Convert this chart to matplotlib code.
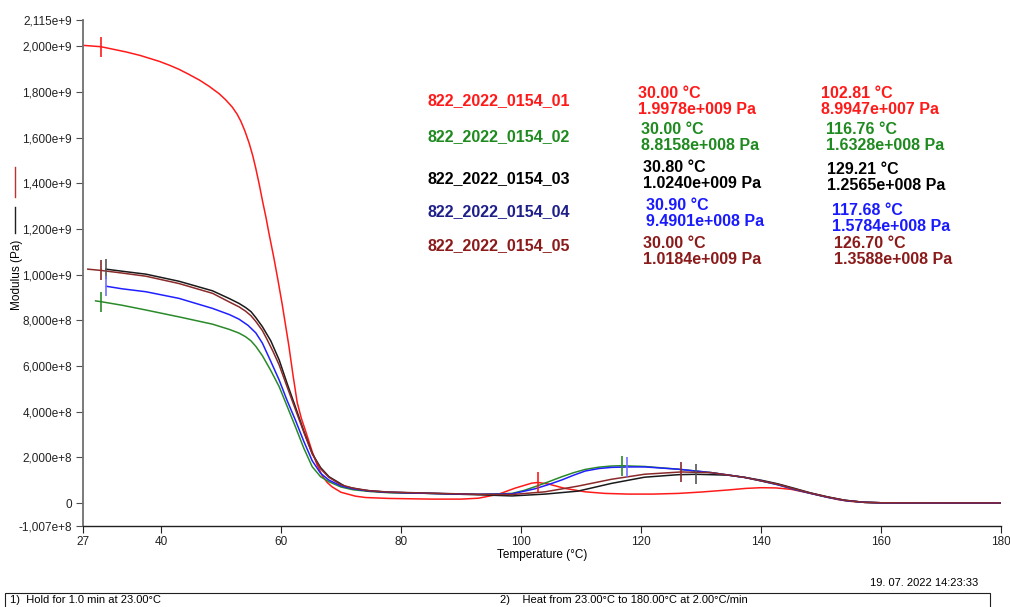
import matplotlib
matplotlib.use("Agg")
import matplotlib.pyplot as plt
from matplotlib.lines import Line2D
from matplotlib.patches import Rectangle
from matplotlib import font_manager

names = {f.name for f in font_manager.fontManager.ttflist}
NARROW = ['Liberation Sans Narrow', 'Liberation Sans', 'DejaVu Sans'] if 'Liberation Sans Narrow' in names else ['Liberation Sans', 'DejaVu Sans']
plt.rcParams['font.family'] = ['Liberation Sans', 'DejaVu Sans']

# ---------------- data (modulus in 1e9 Pa) ----------------
temp_01 = [27.0, 30.0, 34.2, 36.5, 39.7, 41.5, 43.0, 44.5, 46.4, 48.0, 49.7, 50.8, 51.9, 52.7, 53.3, 54.0,
           54.7, 55.3, 55.8, 56.4, 56.9, 57.5, 58.0, 58.8, 59.5, 60.2, 61.3, 62.0, 62.7, 63.4, 64.1, 65.2,
           66.0, 66.9, 67.7, 68.5, 70.0, 72.4, 74.1, 78.0, 85.1, 90.0, 92.9, 96.2, 99.0, 101.8, 102.81, 104.6,
           107.3, 110.7, 114.0, 117.9, 122.0, 126.2, 130.0, 134.5, 137.5, 140.0, 142.5, 145.0, 148.3, 151.1,
           153.0, 155.0, 157.2, 160.0, 170.0, 180.0]
mod_01 = [2.004, 1.998, 1.975, 1.960, 1.934, 1.916, 1.899, 1.879, 1.852, 1.825, 1.792, 1.765, 1.733, 1.702, 1.672, 1.628,
          1.575, 1.520, 1.465, 1.392, 1.325, 1.250, 1.180, 1.075, 0.975, 0.870, 0.690, 0.560, 0.440, 0.370, 0.315, 0.225,
          0.168, 0.118, 0.090, 0.071, 0.047, 0.030, 0.024, 0.020, 0.017, 0.017, 0.021, 0.038, 0.065, 0.087, 0.0899, 0.083,
          0.064, 0.049, 0.042, 0.039, 0.039, 0.042, 0.048, 0.057, 0.064, 0.067, 0.066, 0.060, 0.042, 0.025,
          0.014, 0.007, 0.003, 0.001, 0.0005, 0.0005]

temp_02 = [29.1, 30.0, 33.5, 37.5, 43.0, 48.6, 51.4, 53.0, 54.1, 55.0, 55.8, 56.9, 58.3, 59.7, 61.0, 62.4, 63.8,
           65.2, 66.6, 68.0, 70.0, 72.0, 75.0, 78.0, 85.0, 92.9, 98.5, 100.5, 102.3, 104.5, 106.8, 108.8, 110.7,
           113.0, 115.1, 116.76, 120.6, 126.2, 131.7, 137.3, 140.0, 142.8, 145.5, 148.3, 151.1, 154.0, 157.2,
           160.0, 170.0, 180.0]
mod_02 = [0.885, 0.8816, 0.866, 0.845, 0.815, 0.783, 0.760, 0.744, 0.728, 0.710, 0.686, 0.645, 0.580, 0.509, 0.425,
          0.334, 0.240, 0.159, 0.115, 0.093, 0.070, 0.058, 0.050, 0.045, 0.042, 0.038, 0.042, 0.055, 0.071, 0.092,
          0.115, 0.133, 0.147, 0.157, 0.162, 0.1633, 0.160, 0.148, 0.133, 0.112, 0.097, 0.080, 0.060, 0.042, 0.025,
          0.011, 0.003, 0.001, 0.0005, 0.0005]

temp_03 = [30.8, 33.5, 37.5, 43.0, 48.6, 51.4, 53.0, 54.1, 55.0, 55.8, 56.9, 58.3, 59.7, 61.0, 62.4, 63.8, 65.2,
           66.6, 68.0, 70.8, 74.0, 78.0, 85.0, 92.9, 98.5, 104.0, 109.5, 115.1, 120.6, 126.2, 129.21, 134.5, 137.3,
           140.0, 142.8, 145.6, 148.3, 151.1, 154.0, 157.2, 160.0, 170.0, 180.0]
mod_03 = [1.024, 1.015, 1.002, 0.971, 0.929, 0.895, 0.874, 0.856, 0.838, 0.812, 0.772, 0.710, 0.626, 0.525, 0.421,
          0.315, 0.217, 0.155, 0.115, 0.071, 0.055, 0.047, 0.042, 0.036, 0.031, 0.039, 0.052, 0.086, 0.113, 0.124,
          0.1257, 0.122, 0.112, 0.100, 0.084, 0.064, 0.044, 0.027, 0.012, 0.003, 0.001, 0.0005, 0.0005]

temp_04 = [30.9, 33.5, 37.5, 43.0, 48.6, 51.4, 53.0, 54.5, 55.8, 56.9, 58.3, 59.7, 61.0, 62.4, 63.8, 65.2, 66.6,
           68.0, 70.0, 72.0, 75.0, 78.0, 85.0, 92.9, 98.5, 102.3, 104.5, 106.8, 108.8, 110.7, 113.0, 115.1,
           117.68, 120.6, 126.2, 131.7, 137.3, 140.0, 142.8, 145.5, 148.3, 151.1, 154.0, 157.2, 160.0,
           170.0, 180.0]
mod_04 = [0.949, 0.938, 0.925, 0.896, 0.852, 0.825, 0.805, 0.778, 0.745, 0.700, 0.620, 0.538, 0.450, 0.363, 0.270,
          0.185, 0.130, 0.100, 0.075, 0.062, 0.052, 0.047, 0.042, 0.038, 0.040, 0.062, 0.080, 0.101, 0.122, 0.140,
          0.151, 0.156, 0.1578, 0.158, 0.148, 0.133, 0.112, 0.097, 0.080, 0.060, 0.042, 0.025, 0.011, 0.003, 0.001,
          0.0005, 0.0005]

temp_05 = [27.8, 30.0, 33.5, 37.5, 43.0, 48.6, 51.4, 53.0, 54.1, 55.0, 55.8, 56.9, 57.7, 58.7, 59.7, 61.0, 62.4,
           63.8, 65.2, 66.6, 68.0, 70.0, 72.0, 75.0, 78.0, 85.0, 92.9, 98.5, 104.0, 109.5, 115.1, 120.6, 126.7,
           131.7, 137.3, 140.0, 142.8, 145.5, 148.3, 151.1, 154.0, 157.2, 160.0, 170.0, 180.0]
mod_05 = [1.024, 1.0184, 1.007, 0.993, 0.961, 0.918, 0.880, 0.859, 0.840, 0.820, 0.795, 0.755, 0.715, 0.662, 0.604,
          0.510, 0.410, 0.310, 0.215, 0.150, 0.112, 0.080, 0.065, 0.053, 0.048, 0.043, 0.038, 0.037, 0.049, 0.074,
          0.104, 0.126, 0.1359, 0.133, 0.112, 0.097, 0.082, 0.062, 0.043, 0.026, 0.012, 0.003, 0.001, 0.0005, 0.0005]

sample_names = ['822_2022_0154_01', '822_2022_0154_02', '822_2022_0154_03', '822_2022_0154_04', '822_2022_0154_05']
start_temp = [30.00, 30.00, 30.80, 30.90, 30.00]
start_mod = [1.9978e9, 8.8158e8, 1.0240e9, 9.4901e8, 1.0184e9]
start_mod_txt = ['1.9978e+009', '8.8158e+008', '1.0240e+009', '9.4901e+008', '1.0184e+009']
peak_temp = [102.81, 116.76, 129.21, 117.68, 126.70]
peak_mod = [8.9947e7, 1.6328e8, 1.2565e8, 1.5784e8, 1.3588e8]
peak_mod_txt = ['8.9947e+007', '1.6328e+008', '1.2565e+008', '1.5784e+008', '1.3588e+008']

ytick_vals = [-1.007e8, 0, 2e8, 4e8, 6e8, 8e8, 1e9, 1.2e9, 1.4e9, 1.6e9, 1.8e9, 2e9, 2.115e9]
ytick_lbls = ['-1,007e+8', '0', '2,000e+8', '4,000e+8', '6,000e+8', '8,000e+8', '1,000e+9',
              '1,200e+9', '1,400e+9', '1,600e+9', '1,800e+9', '2,000e+9', '2,115e+9']
xtick_vals = [27, 40, 60, 80, 100, 120, 140, 160, 180]

line_colors = ['#ff1a1a', '#2a8a2a', '#1a1a1a', '#2020ff', '#8b2a2a']
name_colors = ['#ff1a1a', '#1f8a1f', '#000000', '#1f1f8a', '#8b1a1a']
val_colors = ['#ff1a1a', '#1f8a1f', '#000000', '#1a1aff', '#8b1a1a']
marker_colors = ['#ff1a1a', '#2a8a2a', '#555555', '#7070ff', '#8b2a2a']

W, H = 1010, 607
fig = plt.figure(figsize=(W / 100, H / 100), dpi=100)
ax = fig.add_axes([83 / W, 1 - 526 / H, (1001 - 83) / W, (526 - 20) / H])

series = [(temp_01, mod_01), (temp_02, mod_02), (temp_03, mod_03), (temp_04, mod_04), (temp_05, mod_05)]
order = [1, 3, 4, 2, 0]
for i in order:
    t, m = series[i]
    ax.plot(t, [v * 1e9 for v in m], color=line_colors[i], lw=1.1, zorder=2 + i * 0.1,
            solid_joinstyle='round')
for i in range(5):
    ax.plot([start_temp[i], peak_temp[i]], [start_mod[i], peak_mod[i]], ls='none', marker='|',
            ms=14, mew=1.2, color=marker_colors[i], zorder=5)

ax.set_xlim(27, 180)
ax.set_ylim(-1.007e8, 2.115e9)
ax.set_xticks(xtick_vals)
ax.set_xticklabels([str(v) for v in xtick_vals], family=NARROW, fontsize=8.5)
ax.set_yticks(ytick_vals)
ax.set_yticklabels(ytick_lbls, family=NARROW, fontsize=8.5)
for s in ['top', 'right']:
    ax.spines[s].set_visible(False)
ax.spines['left'].set_color('#707070')
ax.spines['left'].set_linewidth(1.3)
ax.spines['bottom'].set_color('#202020')
ax.spines['bottom'].set_linewidth(1.0)
ax.tick_params(axis='y', length=5, width=0.8, color='#505050', pad=3, labelcolor='#222222')
ax.tick_params(axis='x', length=5, width=0.8, color='#202020', pad=2, labelcolor='#222222')
ax.set_xlabel('Temperature (°C)', family=NARROW, fontsize=8.5, labelpad=1)

fig.text(17 / W, 1 - 275 / H, 'Modulus (Pa)', rotation=90, ha='center', va='center',
         family=NARROW, fontsize=8.5)
fig.add_artist(Line2D([15 / W, 15 / W], [1 - 167 / H, 1 - 197 / H], color='#c03030', lw=1.0))
fig.add_artist(Line2D([15 / W, 15 / W], [1 - 207 / H, 1 - 233 / H], color='#202020', lw=1.0))

name_pos = [(427, 101), (427, 137), (427, 179), (427, 212), (428, 246)]
col2_pos = [(638, 93), (641, 130), (643, 168), (646, 206), (643, 243)]
col3_pos = [(821, 93), (826, 130), (827, 170), (832, 210), (834, 243)]
fs = 11.5
for i in range(5):
    x, y = name_pos[i]
    fig.text(x / W, 1 - y / H, sample_names[i], color=name_colors[i], fontsize=fs,
             fontweight='bold', ha='left', va='center')
    x, y = col2_pos[i]
    fig.text(x / W, 1 - y / H, f'{start_temp[i]:.2f} °C', color=val_colors[i], fontsize=fs,
             fontweight='bold', ha='left', va='center')
    fig.text(x / W, 1 - (y + 16) / H, f'{start_mod_txt[i]} Pa', color=val_colors[i], fontsize=fs,
             fontweight='bold', ha='left', va='center')
    x, y = col3_pos[i]
    fig.text(x / W, 1 - y / H, f'{peak_temp[i]:.2f} °C', color=val_colors[i], fontsize=fs,
             fontweight='bold', ha='left', va='center')
    fig.text(x / W, 1 - (y + 16) / H, f'{peak_mod_txt[i]} Pa', color=val_colors[i], fontsize=fs,
             fontweight='bold', ha='left', va='center')

fig.text(978 / W, 1 - 583 / H, '19. 07. 2022 14:23:33', ha='right', va='center', family=NARROW, fontsize=8)
fig.add_artist(Rectangle((5 / W, -0.01), (990 - 5) / W, (0.01 + 1 - 593 / H), transform=fig.transFigure,
                         fill=False, edgecolor='#202020', lw=0.8, clip_on=False))
fig.text(10 / W, 1 - 600 / H, '1)  Hold for 1.0 min at 23.00°C', ha='left', va='center', family=NARROW, fontsize=8)
fig.text(500 / W, 1 - 600 / H, '2)    Heat from 23.00°C to 180.00°C at 2.00°C/min', ha='left', va='center',
         family=NARROW, fontsize=8)

fig.savefig('out.png', dpi=100)
